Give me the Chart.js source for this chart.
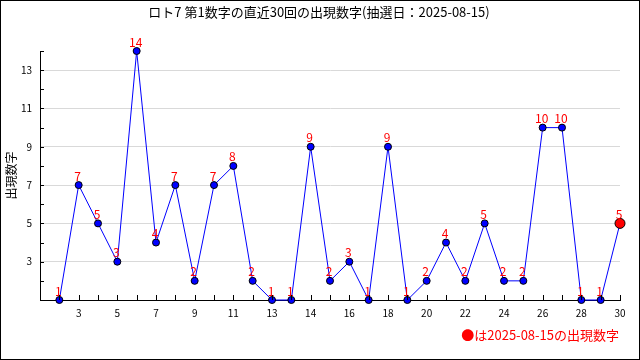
<!DOCTYPE html>
<html>
<head>
<meta charset="utf-8">
<script src="https://cdn.jsdelivr.net/npm/chart.js@4.4.1/dist/chart.umd.min.js"></script>
<style>
  html, body { margin: 0; padding: 0; background: #fff; }
  #wrap { width: 640px; height: 360px; }
</style>
</head>
<body>
<div id="wrap"><canvas id="lotoChart" width="640" height="360"></canvas></div>
<script>
// 直近30回の第1数字
const titleText = 'ロト7 第1数字の直近30回の出現数字(抽選日：2025-08-15)';
const latestDate = '2025-08-15';
const drawIndex = [1, 2, 3, 4, 5, 6, 7, 8, 9, 10, 11, 12, 13, 14, 15, 16, 17, 18, 19, 20, 21, 22, 23, 24, 25, 26, 27, 28, 29, 30];
const numbers = [1, 7, 5, 3, 14, 4, 7, 2, 7, 8, 2, 1, 1, 9, 2, 3, 1, 9, 1, 2, 4, 2, 5, 2, 2, 10, 10, 1, 1, 5];
// x軸の目盛り位置とラベル（元の図のまま）
const xTickPos = [2, 4, 6, 8, 10, 12, 14, 16, 18, 20, 22, 24, 26, 28, 30];
const xTickText = ['3', '5', '7', '9', '11', '13', '14', '16', '18', '20', '22', '24', '26', '28', '30'];
const yTickText = [3, 5, 7, 9, 11, 13];

const FONT = '"Noto Sans CJK JP", "Noto Sans", sans-serif';
const lastIdx = numbers.length - 1;

const decor = {
  id: 'decor',
  beforeDraw(chart) {
    const ctx = chart.ctx;
    ctx.save();
    ctx.fillStyle = '#fff';
    ctx.fillRect(0, 0, chart.width, chart.height);
    ctx.restore();
  },
  afterDatasetsDraw(chart) {
    const ctx = chart.ctx;
    const meta = chart.getDatasetMeta(0);
    ctx.save();
    ctx.fillStyle = '#ff0000';
    ctx.font = '12px ' + FONT;
    ctx.textAlign = 'center';
    ctx.textBaseline = 'bottom';
    meta.data.forEach((pt, i) => {
      ctx.fillText(String(numbers[i]), pt.x - 1, pt.y - 3);
    });
    ctx.restore();
  },
  afterDraw(chart) {
    const ctx = chart.ctx;
    const xs = chart.scales.x, ys = chart.scales.y;
    const area = chart.chartArea;
    ctx.save();
    // 内向きの目盛り
    ctx.strokeStyle = '#000';
    ctx.lineWidth = 1;
    ctx.beginPath();
    xs.ticks.forEach(t => {
      const px = Math.round(xs.getPixelForValue(t.value)) + 0.5;
      ctx.moveTo(px, area.bottom);
      ctx.lineTo(px, area.bottom - 5);
    });
    ys.ticks.forEach(t => {
      const py = Math.round(ys.getPixelForValue(t.value)) + 0.5;
      ctx.moveTo(area.left, py);
      ctx.lineTo(area.left + 4, py);
    });
    ctx.stroke();
    // タイトル
    ctx.fillStyle = '#000';
    ctx.font = '13px ' + FONT;
    ctx.textAlign = 'center';
    ctx.textBaseline = 'middle';
    ctx.fillText(titleText, 319, 12);
    // 注記
    ctx.fillStyle = '#ff0000';
    ctx.textAlign = 'right';
    ctx.fillText('●は' + latestDate + 'の出現数字', 619, 335);
    // 枠
    ctx.strokeStyle = '#000';
    ctx.strokeRect(0.5, 0.5, chart.width - 1, chart.height - 1);
    ctx.restore();
  }
};

new Chart(document.getElementById('lotoChart'), {
  type: 'line',
  data: {
    datasets: [{
      data: drawIndex.map((x, i) => ({ x: x, y: numbers[i] })),
      borderColor: '#0000ff',
      borderWidth: 1,
      tension: 0,
      clip: false,
      pointRadius: numbers.map((_, i) => i === lastIdx ? 5 : 3.5),
      pointBackgroundColor: numbers.map((_, i) => i === lastIdx ? '#ff0000' : '#0000ff'),
      pointBorderColor: '#000',
      pointBorderWidth: 1
    }]
  },
  options: {
    responsive: false,
    animation: false,
    layout: { padding: { top: 51, right: 20, bottom: 0, left: 0 } },
    plugins: {
      legend: { display: false },
      title: { display: false },
      tooltip: { enabled: false }
    },
    scales: {
      x: {
        type: 'linear',
        min: 0,
        max: 30,
        afterFit: s => { s.height = 60; },
        border: { color: '#000', width: 1 },
        grid: { drawOnChartArea: false, drawTicks: false },
        ticks: {
          stepSize: 1,
          autoSkip: false,
          maxRotation: 0,
          padding: 7,
          color: '#000',
          font: { family: FONT, size: 10 },
          callback: v => {
            const k = xTickPos.indexOf(v);
            return k >= 0 ? xTickText[k] : '';
          }
        }
      },
      y: {
        min: 1,
        max: 14,
        afterFit: s => { s.width = 40; },
        border: { color: '#000', width: 1 },
        grid: {
          drawTicks: false,
          color: c => (c.tick && yTickText.includes(c.tick.value)) ? '#d9d9d9' : 'rgba(0,0,0,0)'
        },
        title: {
          display: true,
          text: '出現数字',
          color: '#000',
          font: { family: FONT, size: 12 },
          padding: { top: 4, bottom: 0 }
        },
        ticks: {
          stepSize: 1,
          autoSkip: false,
          padding: 8,
          color: '#000',
          font: { family: FONT, size: 10 },
          callback: v => yTickText.includes(v) ? String(v) : ''
        }
      }
    }
  },
  plugins: [decor]
});
</script>
</body>
</html>
